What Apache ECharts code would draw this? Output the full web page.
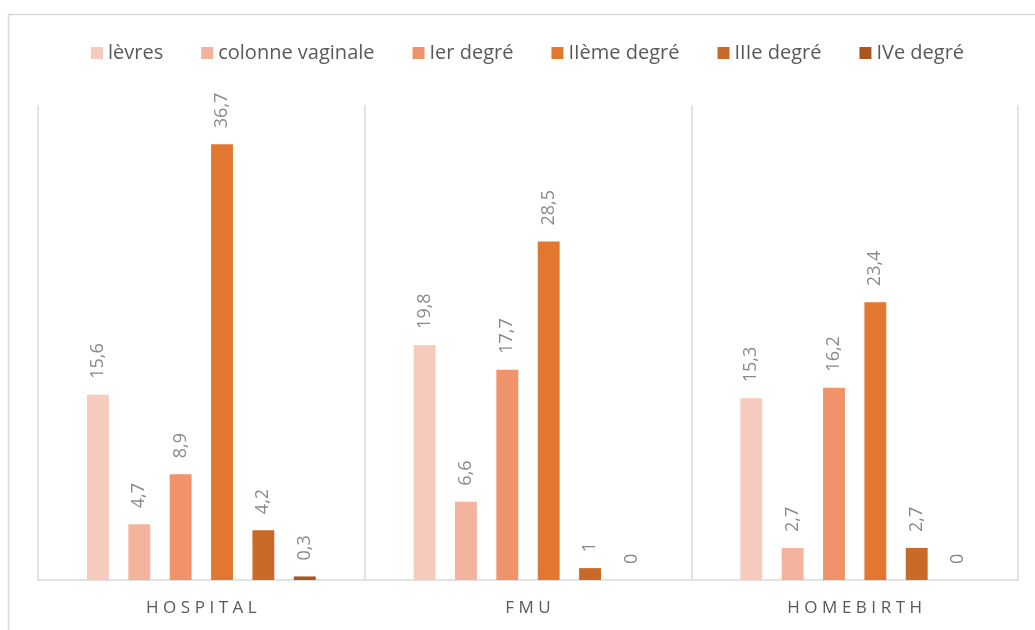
<!DOCTYPE html>
<html>
<head>
<meta charset="utf-8">
<script src="https://cdn.jsdelivr.net/npm/echarts@6/dist/echarts.min.js"></script>
<style>
  html, body { margin: 0; padding: 0; background: #fff; }
  #chart { width: 1035px; height: 630px; }
</style>
</head>
<body>
<div id="chart"></div>
<script>
var categories = ['HOSPITAL', 'FMU', 'HOMEBIRTH'];
var seriesNames = ['lèvres', 'colonne vaginale', 'Ier degré', 'IIème degré', 'IIIe degré', 'IVe degré'];
var levres = [15.6, 19.8, 15.3];
var colonneVaginale = [4.7, 6.6, 2.7];
var ierDegre = [8.9, 17.7, 16.2];
var iiemeDegre = [36.7, 28.5, 23.4];
var iiieDegre = [4.2, 1, 2.7];
var iveDegre = [0.3, 0, 0];
var colors = ['#F6CBBE', '#F3B39C', '#F0936A', '#E2782F', '#C96A28', '#A9561F'];

var chart = echarts.init(document.getElementById('chart'));

var allValues = [levres, colonneVaginale, ierDegre, iiemeDegre, iiieDegre, iveDegre];

// une série par type de lésion
var series = allValues.map(function (vals, i) {
    return {
        name: seriesNames[i],
        type: 'bar',
        data: vals,
        barGap: '89%',
        barCategoryGap: '30%',
        itemStyle: { color: colors[i] },
        label: {
            show: true,
            position: 'top',
            rotate: 90,
            align: 'left',
            verticalAlign: 'middle',
            distance: 16,
            color: '#8a8a8a',
            fontSize: 18,
            fontFamily: 'Open Sans',
            formatter: function (p) {
                return String(p.value).replace('.', ',');
            }
        }
    };
});

var option = {
    backgroundColor: '#fff',
    animation: false,
    graphic: [{
        type: 'rect',
        shape: { x: 8.5, y: 14.5, width: 1040, height: 640 },
        style: { fill: 'none', stroke: '#d9d9d9', lineWidth: 1.5 },
        silent: true
    }],
    legend: {
        top: 38,
        left: 86,
        itemWidth: 12,
        itemHeight: 12,
        itemGap: 38,
        icon: 'rect',
        textStyle: { color: '#595959', fontSize: 20, fontFamily: 'Open Sans' },
        data: seriesNames.map(function (n, i) {
            return { name: n, itemStyle: { color: colors[i] } };
        })
    },
    grid: { left: 38, right: 17, top: 105, bottom: 50, containLabel: false },
    xAxis: {
        type: 'category',
        data: categories,
        axisLine: { lineStyle: { color: '#d9d9d9', width: 1.5 } },
        axisTick: { show: false },
        splitLine: { show: true, interval: 0, lineStyle: { color: '#d9d9d9', width: 1.5 } },
        axisLabel: {
            color: '#595959',
            fontSize: 17,
            fontFamily: 'Open Sans',
            margin: 20,
            formatter: function (v) {
                return v.split('').join('\u2009\u200A');
            }
        }
    },
    yAxis: {
        type: 'value',
        min: 0,
        max: 40,
        show: false,
        splitLine: { show: false }
    },
    series: series
};

chart.setOption(option);
</script>
</body>
</html>
